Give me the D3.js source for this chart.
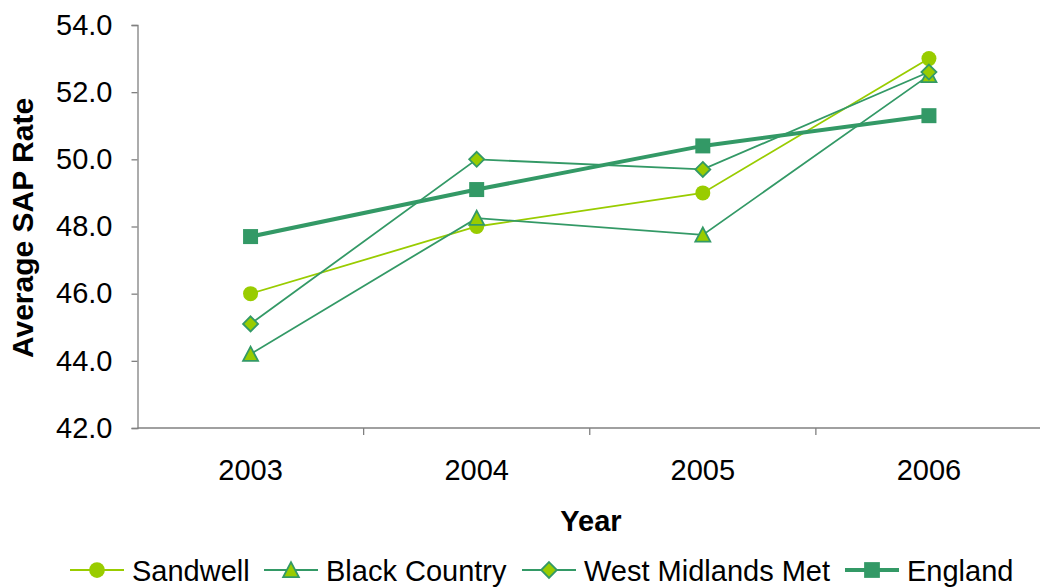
<!DOCTYPE html>
<html>
<head>
<meta charset="utf-8">
<script src="https://cdn.jsdelivr.net/npm/d3@7"></script>
<style>
  html, body { margin: 0; padding: 0; background: #fff; }
  svg { display: block; font-family: "Liberation Sans", Arial, sans-serif; }
</style>
</head>
<body>
<svg id="chart" width="1040" height="587"></svg>
<script>
// Average SAP rate by year
const years = ["2003", "2004", "2005", "2006"];
const sandwell = [46.0, 48.0, 49.0, 53.0];
const blackCountry = [44.2, 48.25, 47.75, 52.5];
const westMidlandsMet = [45.1, 50.0, 49.7, 52.6];
const england = [47.7, 49.1, 50.4, 51.3];
const yTicks = [42, 44, 46, 48, 50, 52, 54];

const series = [
  { name: "Sandwell", values: sandwell, line: "#99cc00", width: 1.8, shape: "circle", fill: "#99cc00", stroke: "none" },
  { name: "Black Country", values: blackCountry, line: "#339966", width: 1.8, shape: "triangle", fill: "#99cc00", stroke: "#339966" },
  { name: "West Midlands Met", values: westMidlandsMet, line: "#339966", width: 1.8, shape: "diamond", fill: "#99cc00", stroke: "#339966" },
  { name: "England", values: england, line: "#339966", width: 4, shape: "square", fill: "#339966", stroke: "none" }
];

const svg = d3.select("#chart");
const plotLeft = 137.5, plotRight = 1042, plotTop = 25, plotBottom = 428;
const fontFamily = "'Liberation Sans', Arial, sans-serif";

const x = d3.scaleBand().domain(years).range([plotLeft, plotRight]).padding(0);
const y = d3.scaleLinear().domain([42, 54]).range([plotBottom, plotTop]);

// axes
const yAxis = svg.append("g")
  .attr("transform", `translate(${plotLeft},0)`)
  .call(d3.axisLeft(y).tickValues(yTicks).tickFormat(d3.format(".1f")).tickSize(6).tickPadding(19));
yAxis.select(".domain").attr("stroke", "#808080").attr("stroke-width", 1.3);
yAxis.selectAll(".tick line").attr("stroke", "#808080").attr("stroke-width", 1.3);
yAxis.selectAll("text").attr("font-size", 29).attr("fill", "#000").attr("font-family", fontFamily);

const xAxis = svg.append("g").attr("transform", `translate(0,${plotBottom})`);
xAxis.append("line").attr("x1", plotLeft).attr("x2", plotRight).attr("stroke", "#808080").attr("stroke-width", 1.3);
xAxis.selectAll("line.tk").data(years.slice(1)).join("line")
  .attr("class", "tk")
  .attr("x1", d => x(d)).attr("x2", d => x(d))
  .attr("y1", 0).attr("y2", 7)
  .attr("stroke", "#808080").attr("stroke-width", 1.3);
xAxis.selectAll("text").data(years).join("text")
  .attr("x", d => x(d) + x.bandwidth() / 2)
  .attr("y", 52)
  .attr("text-anchor", "middle")
  .attr("font-size", 29)
  .attr("font-family", fontFamily)
  .text(d => d);

// axis titles
svg.append("text")
  .attr("transform", `translate(33,228) rotate(-90)`)
  .attr("text-anchor", "middle")
  .attr("font-size", 30).attr("font-weight", "bold")
  .attr("font-family", fontFamily)
  .text("Average SAP Rate");
svg.append("text")
  .attr("x", 591).attr("y", 531)
  .attr("text-anchor", "middle")
  .attr("font-size", 29).attr("font-weight", "bold")
  .attr("font-family", fontFamily)
  .text("Year");

// marker shapes
function marker(sel, s, cx, cy, k) {
  const sz = k || 1;
  if (s.shape === "circle") {
    sel.append("circle").attr("cx", cx).attr("cy", cy).attr("r", 7.5 * sz)
      .attr("fill", s.fill).attr("stroke", s.stroke);
  } else if (s.shape === "square") {
    sel.append("rect").attr("x", cx - 7.5 * sz).attr("y", cy - 7.5 * sz)
      .attr("width", 15 * sz).attr("height", 15 * sz).attr("fill", s.fill);
  } else if (s.shape === "triangle") {
    const h = 7.5 * sz;
    sel.append("path")
      .attr("d", `M${cx},${cy - h} L${cx + h},${cy + h * 0.9} L${cx - h},${cy + h * 0.9} Z`)
      .attr("fill", s.fill).attr("stroke", s.stroke).attr("stroke-width", 1.8);
  } else if (s.shape === "diamond") {
    const h = 7.5 * sz;
    sel.append("path")
      .attr("d", `M${cx},${cy - h} L${cx + h},${cy} L${cx},${cy + h} L${cx - h},${cy} Z`)
      .attr("fill", s.fill).attr("stroke", s.stroke).attr("stroke-width", 1.8);
  }
}

const cx = d => x(d) + x.bandwidth() / 2;
const line = d3.line().x(d => cx(d.year)).y(d => y(d.value));

series.forEach(s => {
  const pts = years.map((yr, i) => ({ year: yr, value: s.values[i] }));
  const g = svg.append("g");
  g.append("path").datum(pts)
    .attr("d", line)
    .attr("fill", "none")
    .attr("stroke", s.line)
    .attr("stroke-width", s.width);
  pts.forEach(p => marker(g, s, cx(p.year), y(p.value)));
});

// legend
const legendY = 570;
const legendX = [70, 264, 522, 845];
series.forEach((s, i) => {
  const g = svg.append("g").attr("transform", `translate(${legendX[i]},0)`);
  g.append("line").attr("x1", 0).attr("x2", 54).attr("y1", legendY).attr("y2", legendY)
    .attr("stroke", s.line).attr("stroke-width", s.width === 4 ? 4 : 1.8);
  marker(g, s, 27, legendY, 1.05);
  g.append("text").attr("x", 62).attr("y", legendY + 10.5)
    .attr("font-size", 29).attr("font-family", fontFamily).text(s.name);
});
</script>
</body>
</html>
